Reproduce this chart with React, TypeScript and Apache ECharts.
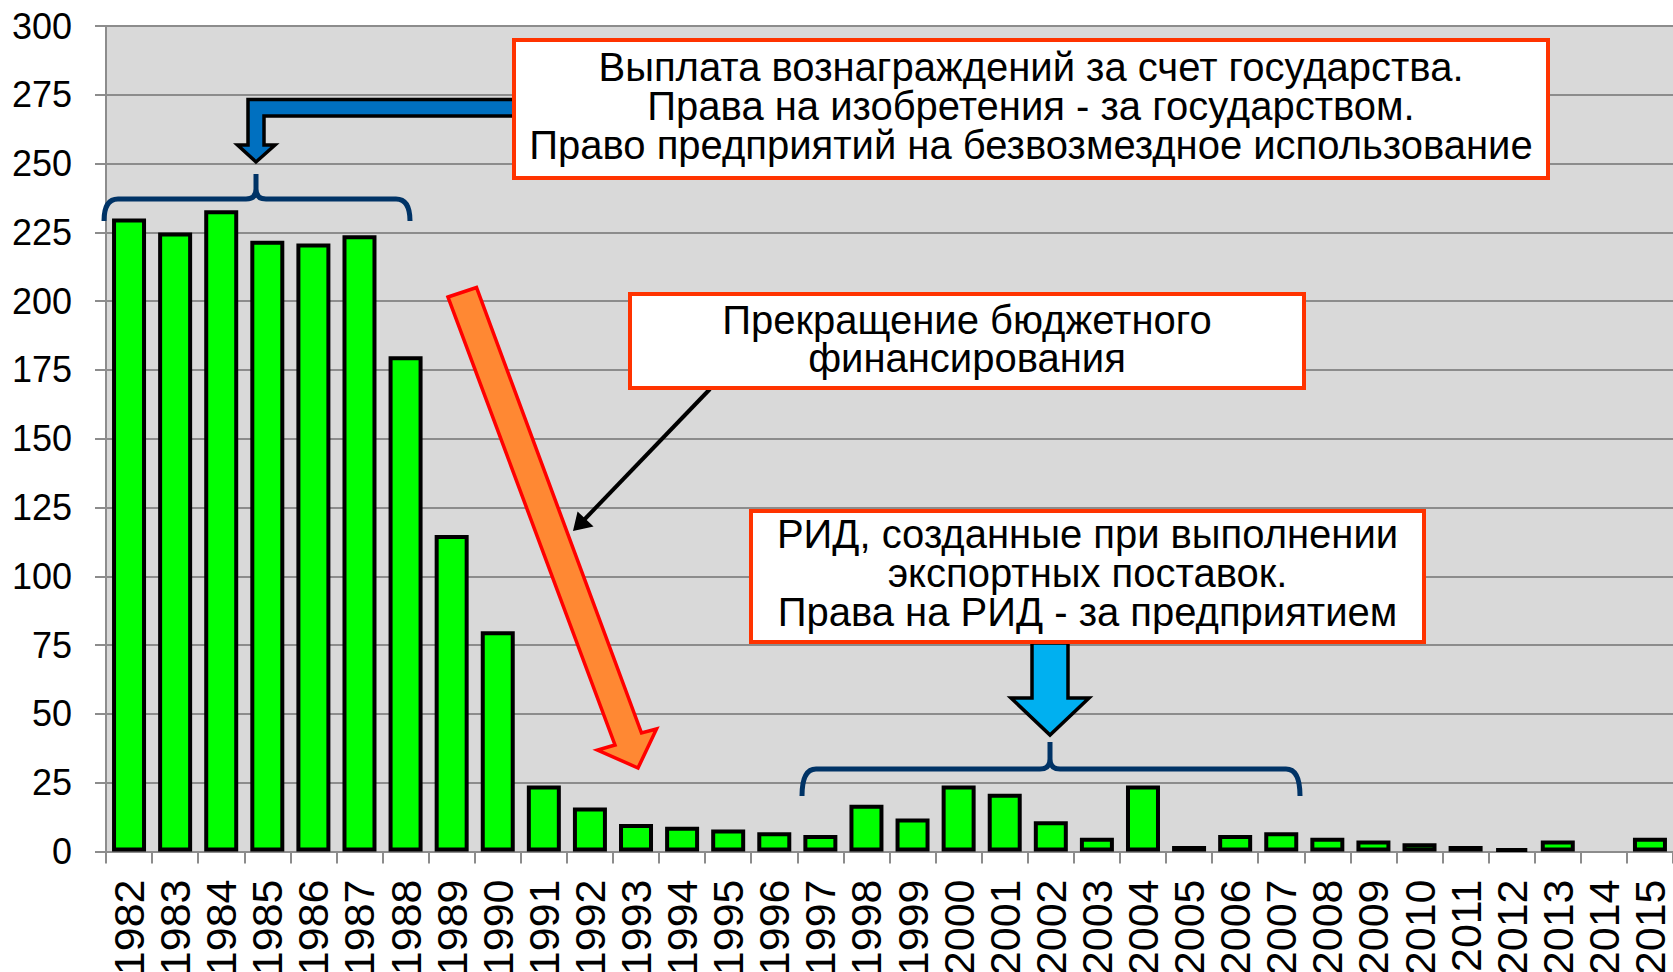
import React, { useEffect, useRef } from "react";
import * as echarts from "echarts";

const years: string[] = [
  "1982", "1983", "1984", "1985", "1986", "1987", "1988", "1989", "1990", "1991",
  "1992", "1993", "1994", "1995", "1996", "1997", "1998", "1999", "2000", "2001",
  "2002", "2003", "2004", "2005", "2006", "2007", "2008", "2009", "2010", "2011",
  "2012", "2013", "2014", "2015",
];

const counts: (number | null)[] = [
  230, 225, 233, 222, 221, 224, 180, 115, 80, 24,
  16, 10, 9, 8, 7, 6, 17, 12, 24, 21,
  11, 5, 24, 2, 6, 7, 5, 4, 3, 2,
  1, 4, null, 5,
];

const yTicks = { min: 0, max: 300, interval: 25 };

const note1 =
  "Выплата вознаграждений за счет государства.\nПрава на изобретения - за государством.\nПраво предприятий на безвозмездное использование";
const note2 = "Прекращение бюджетного\nфинансирования";
const note3 =
  "РИД, созданные при выполнении\nэкспортных поставок.\nПрава на РИД - за предприятием";

const FONT = "'Liberation Sans', Arial, sans-serif";

let registered = false;
function registerShapes() {
  if (registered) return;
  registered = true;
  echarts.graphic.registerShape(
    "brace1",
    echarts.graphic.extendPath(
      "M104 221 Q104 199 118 199 L246 199 Q256 199 256 189 L256 174 M256 189 Q256 199 266 199 L396 199 Q410 199 410 221",
      {}
    )
  );
  echarts.graphic.registerShape(
    "brace2",
    echarts.graphic.extendPath(
      "M802 796 Q802 769 816 769 L1040 769 Q1050 769 1050 759 L1050 742 M1050 759 Q1050 769 1060 769 L1286 769 Q1300 769 1300 796",
      {}
    )
  );
}

function noteBox(x: number, y: number, w: number, h: number, text: string, cy: number, lh: number) {
  return [
    {
      type: "rect",
      shape: { x, y, width: w, height: h },
      style: { fill: "#FFFFFF", stroke: "#FF3300", lineWidth: 4 },
      z: 100,
    },
    {
      type: "text",
      z: 101,
      style: {
        text,
        x: x + w / 2,
        y: cy,
        font: `40px ${FONT}`,
        fill: "#000000",
        align: "center",
        verticalAlign: "middle",
        textAlign: "center",
        textVerticalAlign: "middle",
        lineHeight: lh,
      },
    },
  ];
}

export default function App() {
  const ref = useRef<HTMLDivElement>(null);
  useEffect(() => {
    document.body.style.margin = "0";
    registerShapes();
    if (!ref.current) return;
    const chart = echarts.init(ref.current, undefined, { renderer: "svg" });
    chart.setOption({
      animation: false,
      backgroundColor: "#FFFFFF",
      grid: {
        left: 106,
        right: 0,
        top: 26,
        bottom: 120.5,
        show: true,
        backgroundColor: "#D9D9D9",
        borderWidth: 0,
        containLabel: false,
        outerBoundsMode: "none",
      },
      xAxis: {
        type: "category",
        data: years,
        axisLine: { show: true, lineStyle: { color: "#8C8C8C", width: 2 } },
        axisTick: { show: true, length: 12, lineStyle: { color: "#8C8C8C", width: 2 } },
        axisLabel: {
          rotate: 90,
          interval: 0,
          margin: 28,
          fontSize: 43,
          fontFamily: FONT,
          color: "#000000",
        },
      },
      yAxis: {
        type: "value",
        min: yTicks.min,
        max: yTicks.max,
        interval: yTicks.interval,
        axisLine: { show: true, lineStyle: { color: "#8C8C8C", width: 2 } },
        axisTick: { show: true, length: 11, lineStyle: { color: "#8C8C8C", width: 2 } },
        axisLabel: { margin: 34, fontSize: 36, fontFamily: FONT, color: "#000000" },
        splitLine: { show: true, lineStyle: { color: "#8C8C8C", width: 2 } },
      },
      series: [
        {
          type: "bar",
          data: counts,
          barWidth: 34,
          itemStyle: { color: "#00FF00", borderColor: "#000000", borderWidth: 4 },
        },
      ],
      graphic: {
        elements: [
          {
            type: "brace1",
            x: 0,
            y: 0,
            z: 90,
            style: { fill: "none", stroke: "#003366", lineWidth: 5 },
          },
          {
            type: "brace2",
            x: 0,
            y: 0,
            z: 90,
            style: { fill: "none", stroke: "#003366", lineWidth: 5 },
          },
          {
            type: "polygon",
            z: 95,
            shape: {
              points: [
                [514, 99.5], [248, 99.5], [248, 145], [237.5, 145], [256, 162],
                [275, 145], [264, 145], [264, 116], [514, 116],
              ],
            },
            style: { fill: "#0070C0", stroke: "#000000", lineWidth: 3.5 },
          },
          {
            type: "polygon",
            z: 95,
            shape: {
              points: [
                [448, 297], [476.5, 287.5], [641.5, 733], [656.5, 729], [638, 768],
                [597.5, 750], [615, 745],
              ],
            },
            style: { fill: "#FF8833", stroke: "#FF0000", lineWidth: 3.5 },
          },
          {
            type: "line",
            z: 95,
            shape: { x1: 710, y1: 389, x2: 582, y2: 522 },
            style: { stroke: "#000000", lineWidth: 4 },
          },
          {
            type: "polygon",
            z: 95,
            shape: { points: [[574, 530], [578, 513], [592, 526]] },
            style: { fill: "#000000", stroke: "#000000", lineWidth: 1.5 },
          },
          {
            type: "polygon",
            z: 95,
            shape: {
              points: [
                [1032, 643], [1068, 643], [1068, 698], [1089, 698], [1050, 735],
                [1011, 698], [1032, 698],
              ],
            },
            style: { fill: "#00B0F0", stroke: "#000000", lineWidth: 3.5 },
          },
          ...noteBox(514, 40, 1034, 138, note1, 105.5, 39),
          ...noteBox(630, 294, 674, 94, note2, 339, 37.5),
          ...noteBox(751, 511, 673, 131, note3, 573, 39),
        ],
      },
    });
    return () => chart.dispose();
  }, []);
  return <div ref={ref} style={{ width: 1673, height: 972 }} />;
}
